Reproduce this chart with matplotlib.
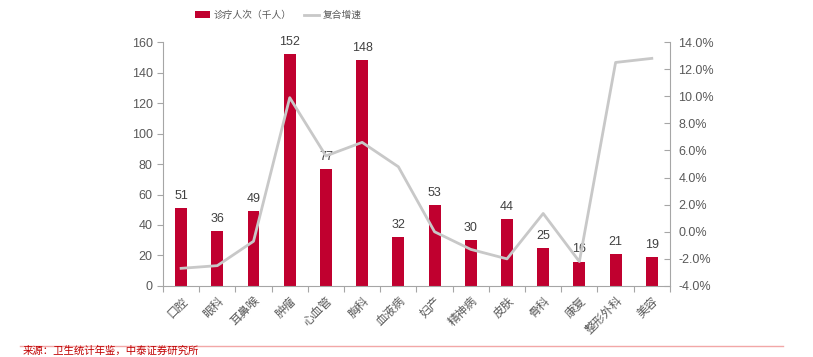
import matplotlib
matplotlib.use("Agg")
import matplotlib.pyplot as plt
from matplotlib.ticker import FuncFormatter

plt.rcParams['font.family'] = ['Liberation Sans', 'Noto Sans CJK SC', 'DejaVu Sans']

departments = ["口腔", "眼科", "耳鼻喉", "肿瘤", "心血管", "胸科", "血液病", "妇产",
               "精神病", "皮肤", "骨科", "康复", "整形外科", "美容"]
visits = [51, 36, 49, 152, 77, 148, 32, 53, 30, 44, 25, 16, 21, 19]
growth = [-2.7, -2.5, -0.7, 9.9, 5.6, 6.6, 4.8, 0.0, -1.3, -2.0, 1.35, -2.2, 12.5, 12.8]

bar_color = "#C0002F"
line_color = "#C8C8C8"
axis_color = "#A6A6A6"
text_color = "#595959"
cjk = ['Noto Sans CJK SC', 'DejaVu Sans']

fig = plt.figure(figsize=(8.13, 3.57), dpi=100)
ax = fig.add_axes([0.2005, 0.199, 0.6235, 0.683])
x = list(range(len(departments)))

bars = ax.bar(x, visits, width=0.33, color=bar_color, label="诊疗人次（千人）", zorder=2)
for xi, v in zip(x, visits):
    ax.text(xi, v + 4, str(v), ha='center', va='bottom', fontsize=9, color="#404040", zorder=5)

ax.set_xlim(-0.5, len(departments) - 0.5)
ax.set_ylim(0, 160)
ax.set_yticks(range(0, 161, 20))
ax.set_xticks([i - 0.5 for i in range(len(departments) + 1)], minor=False)
ax.set_xticklabels([])
ax.set_xticks(x, minor=True)
ax.set_xticklabels(departments, minor=True, rotation=45, ha='right', rotation_mode='anchor',
                   fontsize=8.5, color=text_color, family=cjk)
ax.tick_params(axis='x', which='minor', length=0, pad=6)
ax.tick_params(axis='x', which='major', length=4, color=axis_color, direction='out')
ax.tick_params(axis='y', length=4, color=axis_color, labelsize=9, labelcolor=text_color, direction='out')
for s in ['top', 'right']:
    ax.spines[s].set_visible(False)
for s in ['left', 'bottom']:
    ax.spines[s].set_color(axis_color)

ax2 = ax.twinx()
ax2.plot(x, growth, color=line_color, linewidth=2, label="复合增速", zorder=3)
ax2.set_ylim(-4, 14)
ax2.set_yticks(range(-4, 15, 2))
ax2.yaxis.set_major_formatter(FuncFormatter(lambda v, p: "%.1f%%" % v))
ax2.tick_params(axis='y', length=4, color=axis_color, labelsize=9, labelcolor=text_color, direction='in', pad=6)
for s in ['top', 'left', 'bottom']:
    ax2.spines[s].set_visible(False)
ax2.spines['right'].set_color(axis_color)

h1, l1 = ax.get_legend_handles_labels()
h2, l2 = ax2.get_legend_handles_labels()
fig.legend(h1 + h2, l1 + l2, loc='center', bbox_to_anchor=(0.342, 0.958), ncol=2, frameon=False,
           prop={'family': cjk, 'size': 7}, labelcolor=text_color, handlelength=1.6,
           handleheight=0.75, columnspacing=1.3, handletextpad=0.3)

fig.add_artist(plt.Line2D([0.025, 0.963], [0.031, 0.031], color="#F2A7A7", linewidth=1))
fig.text(0.028, 0.004, "来源：卫生统计年鉴，中泰证券研究所", fontsize=7.5, color="#C00000",
         family=cjk, va='bottom', ha='left')

fig.savefig("out.png", dpi=100)
